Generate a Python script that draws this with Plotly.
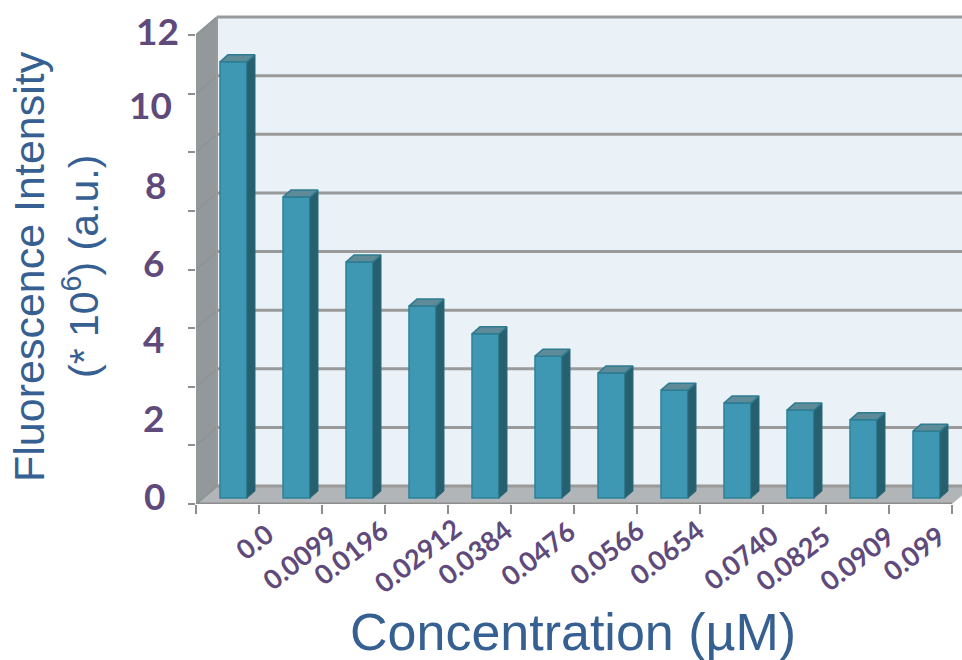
import plotly.graph_objects as go

concentrations = ["0.0", "0.0099", "0.0196", "0.02912", "0.0384", "0.0476",
                  "0.0566", "0.0654", "0.0740", "0.0825", "0.0909", "0.099"]
intensity = [11.16, 7.70, 6.04, 4.91, 4.20, 3.63, 3.20, 2.76, 2.43, 2.25, 2.00, 1.71]
y_labels = ["12", "10", "8", "6", "4", "2", "0"]
y_grid = [0, 1.5, 3, 4.5, 6, 7.5, 9, 10.5, 12]

# page geometry
W, H = 962, 660
L, T, B = 196, 10, 504
PX_X = 63.0
PX_Y = 39.08
def xp(px): return (px - L) / (W - L)
def yp(px): return (B - px) / (B - T)

# 3D look in data units
wall_dx, wall_dy = 21 / PX_X, 18 / PX_Y
bar_dx, bar_base = 6 / PX_X, 6 / PX_Y
bar_w = 27 / PX_X
side_dx, side_dy = 8 / PX_X, 7 / PX_Y

x_left, x_right = -0.5, 11.5
xs = list(range(len(intensity)))
bx = [i + bar_dx for i in xs]

side_x, side_y, top_x, top_y = [], [], [], []
for cx, v in zip(bx, intensity):
    r = cx + bar_w / 2
    l = cx - bar_w / 2
    t = bar_base + v
    side_x += [r, r + side_dx, r + side_dx, r, r, None]
    side_y += [bar_base, bar_base + side_dy, t + side_dy, t, bar_base, None]
    top_x += [l, l + side_dx, r + side_dx, r, l, None]
    top_y += [t, t + side_dy, t + side_dy, t, t, None]

fig = go.Figure()
fig.add_trace(go.Bar(x=bx, y=intensity, base=bar_base, width=bar_w,
                     marker=dict(color="#3F98B3", line=dict(color="#2C8199", width=1.5)),
                     showlegend=False, hoverinfo="skip"))
fig.add_trace(go.Scatter(x=side_x, y=side_y, mode="lines", fill="toself", fillcolor="#265F6E",
                         line=dict(color="#2A6A7C", width=1), showlegend=False, hoverinfo="skip"))
fig.add_trace(go.Scatter(x=top_x, y=top_y, mode="lines", fill="toself", fillcolor="#5F8A97",
                         line=dict(color="#2C7C92", width=1.5), showlegend=False, hoverinfo="skip"))

def poly(pts):
    return "M " + " L ".join(f"{a},{b}" for a, b in pts) + " Z"

shapes = [
    dict(type="path", path=poly([(x_left + wall_dx, wall_dy), (x_right + wall_dx + 1, wall_dy),
                                 (x_right + wall_dx + 1, 12 + wall_dy), (x_left + wall_dx, 12 + wall_dy)]),
         fillcolor="#EAF1F7", line=dict(width=0), layer="below"),
    dict(type="path", path=poly([(x_left, 0), (x_left + wall_dx, wall_dy),
                                 (x_left + wall_dx, 12 + wall_dy), (x_left, 12)]),
         fillcolor="#93999B", line=dict(width=0), layer="below"),
    dict(type="path", path=poly([(x_left, 0), (x_left + wall_dx, wall_dy),
                                 (x_right + wall_dx, wall_dy), (x_right, 0)]),
         fillcolor="#B1B5B7", line=dict(width=0), layer="below"),
]
for g in y_grid:
    shapes.append(dict(type="line", x0=x_left + wall_dx, x1=x_right + wall_dx + 1,
                       y0=g + wall_dy, y1=g + wall_dy, layer="below",
                       line=dict(color="#9A9A9A", width=3)))
    shapes.append(dict(type="line", x0=x_left, x1=x_left + wall_dx, y0=g, y1=g + wall_dy,
                       layer="below", line=dict(color="#8E9496", width=2)))
shapes.append(dict(type="line", x0=x_left + wall_dx, x1=x_left + wall_dx, y0=wall_dy, y1=12 + wall_dy,
                   layer="below", line=dict(color="#9A9A9A", width=2)))

annotations = []
label_cx = [157, 150, 155, 153, 153, 153, 154]
label_cy = [30, 105, 185, 262, 338, 417, 495]
for t, cx, cy in zip(y_labels, label_cx, label_cy):
    annotations.append(dict(text=f"<b>{t}</b>", x=xp(cx), y=yp(cy), xref="paper", yref="paper",
                            showarrow=False, xanchor="center", yanchor="middle",
                            font=dict(family="Lato", size=37, color="#604A7B")))
cat_cx = [254, 299, 350, 417, 474, 537, 606, 666, 740, 792, 856, 913]
cat_cy = [541, 557, 552, 555, 552, 553, 552, 552, 557, 558, 558, 553]
for t, cx, cy in zip(concentrations, cat_cx, cat_cy):
    annotations.append(dict(text=f"<b>{t}</b>", x=xp(cx), y=yp(cy), xref="paper", yref="paper",
                            showarrow=False, xanchor="center", yanchor="middle", textangle=-38,
                            font=dict(family="Lato", size=27, color="#604A7B")))
annotations.append(dict(text="Concentration (µM)", x=xp(573), y=yp(632), xref="paper", yref="paper",
                        showarrow=False, xanchor="center", yanchor="middle",
                        font=dict(family="Liberation Sans", size=52, color="#376092")))
annotations.append(dict(text="Fluorescence Intensity", x=xp(29), y=yp(267), xref="paper", yref="paper",
                        showarrow=False, xanchor="center", yanchor="middle", textangle=-90,
                        font=dict(family="Liberation Sans", size=43, color="#376092")))
annotations.append(dict(text="(* 10<sup>6</sup>) (a.u.)", x=xp(81), y=yp(267), xref="paper", yref="paper",
                        showarrow=False, xanchor="center", yanchor="middle", textangle=-90,
                        font=dict(family="Liberation Sans", size=41, color="#376092")))

fig.update_layout(
    width=W, height=H, margin=dict(l=L, r=0, t=T, b=H - B),
    paper_bgcolor="white", plot_bgcolor="white",
    shapes=shapes, annotations=annotations, showlegend=False,
    xaxis=dict(range=[x_left, x_left + (W - L) / PX_X], tickmode="array",
               tickvals=[x_left + i for i in range(len(intensity) + 1)],
               ticks="outside", ticklen=9, tickwidth=2, tickcolor="#8E8E8E",
               showticklabels=False, showgrid=False, zeroline=False,
               showline=False),
    yaxis=dict(range=[0, (B - T) / PX_Y], tickmode="array", tickvals=y_grid,
               ticks="outside", ticklen=7, tickwidth=2, tickcolor="#8E8E8E",
               showticklabels=False, showgrid=False, zeroline=False, showline=False),
)
fig.add_shape(type="line", x0=x_left, x1=x_right, y0=0, y1=0, layer="above",
              line=dict(color="#8E8E8E", width=3))
fig.write_html("out.html", config={"displayModeBar": False},
               post_script="document.body.style.margin='0';")
